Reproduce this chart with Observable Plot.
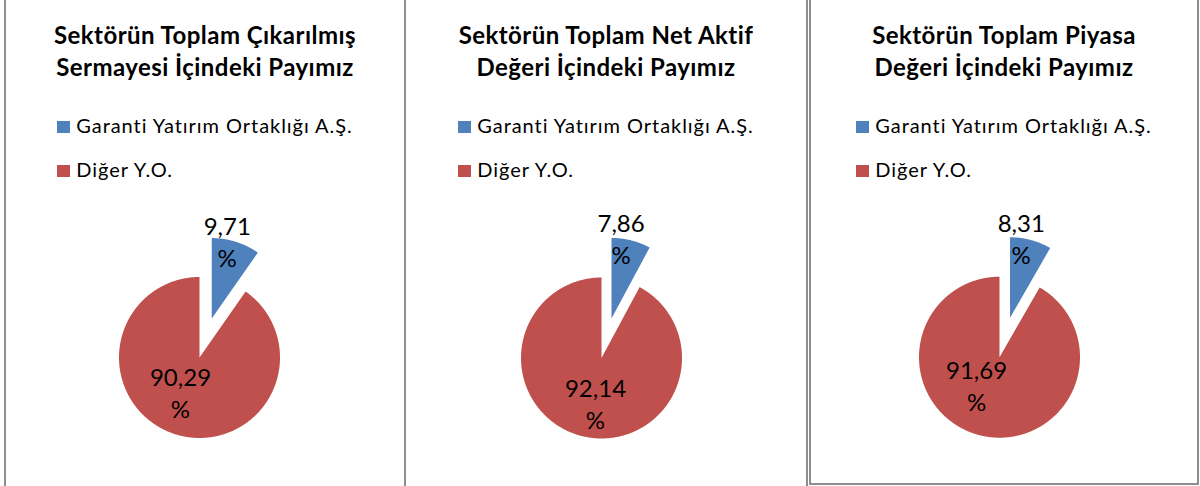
<!DOCTYPE html>
<html>
<head>
<meta charset="utf-8">
<script src="https://cdn.jsdelivr.net/npm/d3@7"></script>
<script src="https://cdn.jsdelivr.net/npm/@observablehq/plot@0.6"></script>
<style>
  html, body { margin: 0; padding: 0; background: #fff; }
  #root { position: relative; width: 1200px; height: 486px; overflow: hidden; font-family: Lato, "Open Sans", sans-serif; color: #000; }
  .panel { position: absolute; top: 0; box-sizing: border-box; border-color: #8e8e8e; border-style: solid; border-width: 0; }
  .title { position: absolute; left: 0; right: 0; top: 18.7px; text-align: center; font-weight: 700; font-size: 24px; letter-spacing: 0.45px; line-height: 32px; white-space: nowrap; }
  .legend { position: absolute; left: 0; right: 0; top: 103.3px; display: flex; justify-content: center; }
  .legend-inner { display: flex; flex-direction: column; }
  .item { font-size: 20px; letter-spacing: 0.95px; line-height: 44px; height: 44px; white-space: nowrap; }
  .sw { display: inline-block; width: 13px; height: 12px; margin-right: 6px; vertical-align: baseline; }
  .pie { position: absolute; }
</style>
</head>
<body>
<div id="root"></div>
<script>
// ---- data ----
const titles = [
  ["Sektörün Toplam Çıkarılmış", "Sermayesi İçindeki Payımız"],
  ["Sektörün Toplam Net Aktif", "Değeri İçindeki Payımız"],
  ["Sektörün Toplam Piyasa", "Değeri İçindeki Payımız"]
];
const categories = ["Garanti Yatırım Ortaklığı A.Ş.", "Diğer Y.O."];
const garantiShare = [9.71, 7.86, 8.31];
const digerShare = [90.29, 92.14, 91.69];
const colors = ["#4F81BD", "#C0504D"];

// ---- layout ----
const panels = [
  {left: 4,   width: 402, height: 486, bl: 2, br: 2, bb: 0},
  {left: 406, width: 402, height: 486, bl: 0, br: 2, bb: 0},
  {left: 809, width: 390, height: 485, bl: 2, br: 2, bb: 2}
];
const pieCenters = [[199, 357], [601, 357.5], [999, 356.7]];
const labelPolar = [
  [[11.2, 0.99], [209.2, 0.484]],
  [[6.8, 1.01], [187.7, 0.557]],
  [[8.0, 1.0], [220.1, 0.443]]
];
const R = 80.5;        // px per unit radius
const explode = 0.507; // offset of exploded slice, in radius units
const W = 300, H = 270, svgTop = 200;

const fmt = v => v.toFixed(2).replace(".", ",");
const root = document.getElementById("root");
const pie = d3.pie().sort(null).value(d => d.value);

titles.forEach((t, i) => {
  const p = panels[i];
  const div = document.createElement("div");
  div.className = "panel";
  Object.assign(div.style, {
    left: p.left + "px", width: p.width + "px", height: p.height + "px",
    borderLeftWidth: p.bl + "px", borderRightWidth: p.br + "px", borderBottomWidth: p.bb + "px"
  });
  const title = document.createElement("div");
  title.className = "title";
  title.innerHTML = t.join("<br>");
  div.appendChild(title);

  const legend = document.createElement("div");
  legend.className = "legend";
  const inner = document.createElement("div");
  inner.className = "legend-inner";
  categories.forEach((c, j) => {
    const it = document.createElement("div");
    it.className = "item";
    const sw = document.createElement("span");
    sw.className = "sw";
    sw.style.background = colors[j];
    it.appendChild(sw);
    it.appendChild(document.createTextNode(c));
    inner.appendChild(it);
  });
  legend.appendChild(inner);
  div.appendChild(legend);
  root.appendChild(div);

  // pie
  const values = [garantiShare[i], digerShare[i]];
  const slices = pie(categories.map((c, j) => ({cat: c, value: values[j]})));
  const pts = [];
  const labels = [];
  slices.forEach((s, j) => {
    const cat = s.data.cat;
    const mid = (s.startAngle + s.endAngle) / 2;
    const off = j === 0 ? explode : 0;
    const ox = off * Math.sin(mid), oy = off * Math.cos(mid);
    const n = Math.max(2, Math.ceil((s.endAngle - s.startAngle) / (Math.PI / 360)));
    pts.push({cat, x: ox, y: oy});
    for (let k = 0; k <= n; k++) {
      const a = s.startAngle + (s.endAngle - s.startAngle) * k / n;
      pts.push({cat, x: ox + Math.sin(a), y: oy + Math.cos(a)});
    }
    pts.push({cat, x: ox, y: oy});
    const [la, lr] = labelPolar[i][j];
    const ar = la * Math.PI / 180;
    labels.push({x: ox + lr * Math.sin(ar), y: oy + lr * Math.cos(ar), text: fmt(s.data.value) + "\n%"});
  });

  const [cx, cy] = pieCenters[i];
  const chart = Plot.plot({
    width: W, height: H, margin: 0,
    style: {background: "transparent", fontFamily: "Lato, sans-serif", overflow: "visible"},
    x: {axis: null, domain: [-W / 2 / R, W / 2 / R]},
    y: {axis: null, domain: [-(svgTop + H - cy) / R, (cy - svgTop) / R]},
    color: {domain: categories, range: colors},
    marks: [
      Plot.line(pts, {x: "x", y: "y", z: "cat", fill: "cat", stroke: "none", curve: "linear"}),
      Plot.text(labels, {x: "x", y: "y", text: "text", fontSize: 24, lineHeight: 32 / 24, lineAnchor: "middle", fill: "#000"})
    ]
  });
  chart.classList.add("pie");
  chart.style.left = (cx - W / 2) + "px";
  chart.style.top = svgTop + "px";
  root.appendChild(chart);
});
</script>
</body>
</html>
